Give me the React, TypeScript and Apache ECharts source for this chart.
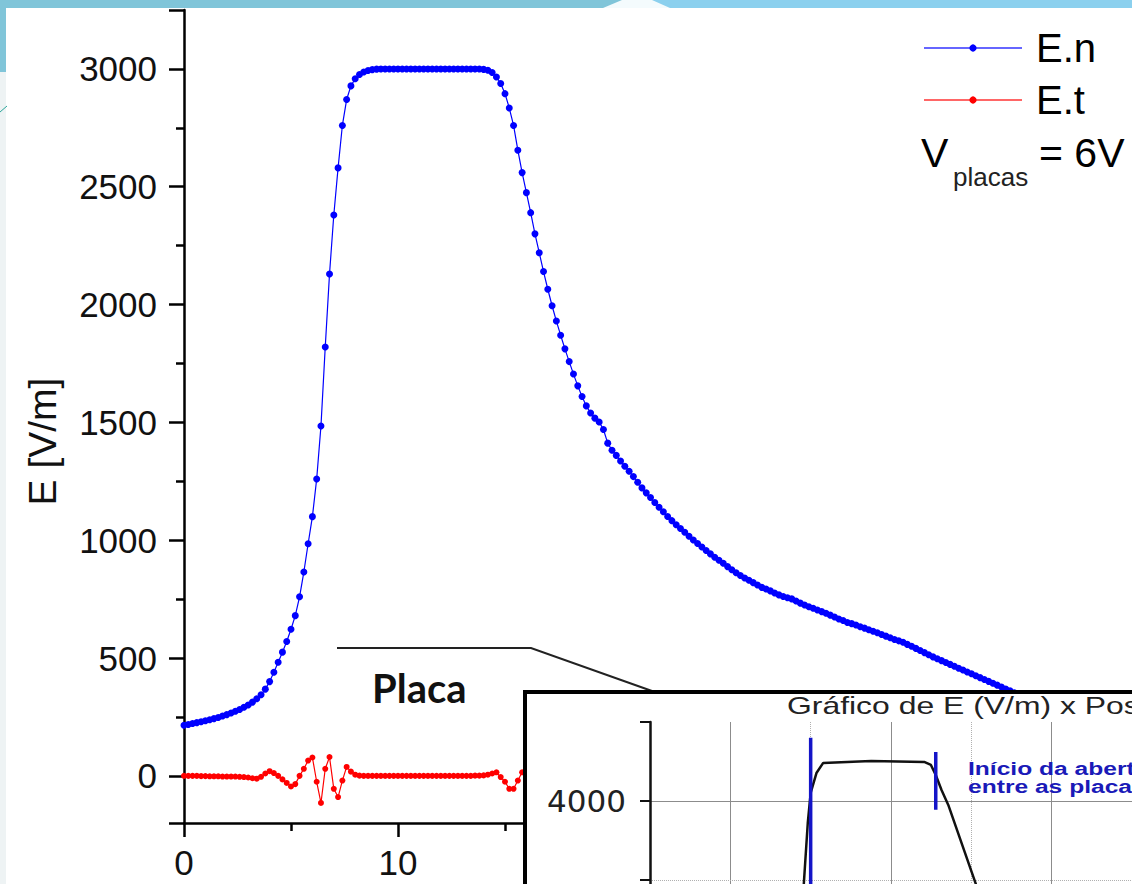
import React, { useEffect, useRef } from "react";
import * as echarts from "echarts";

// ---- main chart data (x sampled every STEP units, starting at 0) ----
const STEP = 0.2;

// E.n [V/m]
const eNormal = [
  215, 218, 222, 226, 230, 234, 238, 243, 248, 254,
  260, 267, 274, 282, 291, 301, 313, 327, 344, 368,
  400, 440, 482, 525, 570, 622, 680, 760, 865, 985,
  1100, 1260, 1485, 1820, 2130, 2380, 2580, 2760, 2870, 2928,
  2958, 2976, 2987, 2993, 2997, 2999, 3000, 3000, 3000, 3000,
  3000, 3000, 3000, 3000, 3000, 3000, 3000, 3000, 3000, 3000,
  3000, 3000, 3000, 3000, 3000, 3000, 3000, 3000, 3000, 3000,
  2998, 2994, 2985, 2966, 2938, 2895, 2834, 2760, 2655, 2560,
  2475, 2390, 2300, 2220, 2140, 2065, 1995, 1930, 1870, 1812,
  1758, 1705, 1655, 1610, 1570, 1540, 1518, 1502, 1470, 1412,
  1382, 1360, 1336, 1314, 1293, 1270, 1246, 1222, 1201, 1181,
  1160, 1140, 1121, 1101, 1083, 1066, 1050, 1034, 1017, 1001,
  986, 971, 956, 942, 928, 915, 902, 888, 875, 862,
  850, 840, 830, 820, 810, 800, 793, 785, 776, 768,
  761, 756, 751, 742, 733, 725, 718, 711, 704, 697,
  690, 682, 674, 666, 659, 651, 646, 640, 633, 627,
  620, 614, 607, 600, 593, 586, 579, 573, 567, 558,
  550, 541, 532, 523, 514, 505, 497, 489, 481, 473,
  465, 457, 449, 441, 433, 425, 417, 409, 401, 393,
  385, 377, 369, 361, 353, 345, 337, 329, 321, 313,
  305,
];

// E.t [V/m]
const eTangential = [
  0, 0, 0, 0, -1, -1, -2, -2, -2, -3,
  -3, -3, -3, -4, -5, -7, -10, -12, -4, 10,
  20, 12, 0, -15, -30, -45, -35, 0, 30, 65,
  78, -25, -115, 30, 80, -55, -90, -20, 38, 18,
  5, 1, 0, 0, 0, 0, 0, 0, 0, 0,
  0, 0, 0, 0, 0, 0, 0, 0, 0, 0,
  0, 0, 0, 0, 0, 0, 0, 0, 1, 1,
  2, 5, 10, 15, -5, -25, -55, -55, -20, 15,
  35,
];

// ---- inset ("Gráfico de E (V/m) x Posição") data ----
const insetPos = [1.868, 1.916, 1.964, 2.0, 2.072, 2.156, 2.754, 3.413, 3.497, 3.557, 3.629, 3.713, 4.048, 4.31];
const insetField = [3000, 3487, 3861, 4051, 4177, 4241, 4253, 4247, 4228, 4165, 4070, 3975, 3487, 3090];
const insetBoundaryA = [[2.0, 4400], [2.0, 2950]];
const insetBoundaryB = [[3.557, 4310], [3.557, 3945]];
const insetGridSolidX = [1, 3, 5];
const insetGridDottedX = [2, 4];
const insetGridSolidY = [4000];
const insetGridDottedY = [3500];

const FONT = "'Liberation Sans', Arial, Helvetica, sans-serif";

export default function App() {
  const ref = useRef<HTMLDivElement>(null);

  useEffect(() => {
    if (!ref.current) return;
    const chart = echarts.init(ref.current, undefined, { renderer: "svg" });

    const nData = eNormal.map((v, i) => [Math.round(i * STEP * 10) / 10, v]);
    const tData = eTangential.map((v, i) => [Math.round(i * STEP * 10) / 10, v]);
    const insetData = insetPos.map((x, i) => [x, insetField[i]]);

    const gridMarks = [
      ...insetGridSolidX.map((v) => ({ xAxis: v, lineStyle: { color: "#8c8c8c", width: 1, type: "solid" } })),
      ...insetGridDottedX.map((v) => ({ xAxis: v, lineStyle: { color: "#b0b0b0", width: 1, type: "dotted" } })),
      ...insetGridSolidY.map((v) => ({ yAxis: v, lineStyle: { color: "#8c8c8c", width: 1, type: "solid" } })),
      ...insetGridDottedY.map((v) => ({ yAxis: v, lineStyle: { color: "#b0b0b0", width: 1, type: "dotted" } })),
    ];

    const axisBlack = { color: "#000", width: 2.5 };

    chart.setOption({
      animation: false,
      backgroundColor: "#ffffff",
      grid: [
        { left: 184, top: 10, width: 941.6, height: 813 },
        { left: 650, top: 722, width: 501, height: 237 },
      ],
      xAxis: [
        {
          type: "value",
          gridIndex: 0,
          min: 0,
          max: 44,
          interval: 10,
          axisLine: { show: true, onZero: false, lineStyle: axisBlack },
          axisTick: { show: true, length: 14, lineStyle: axisBlack },
          minorTick: { show: true, splitNumber: 2, length: 8, lineStyle: axisBlack },
          splitLine: { show: false },
          axisLabel: { fontSize: 35, color: "#111", fontFamily: FONT, margin: 22, showMaxLabel: false },
        },
        { type: "value", gridIndex: 1, min: 0, max: 6, show: false },
      ],
      yAxis: [
        {
          type: "value",
          gridIndex: 0,
          min: -200,
          max: 3250,
          splitNumber: 7,
          name: "E [V/m]",
          nameLocation: "middle",
          nameRotate: 90,
          nameGap: 122,
          nameTextStyle: { fontSize: 39, color: "#111", fontFamily: FONT, padding: [0, 50, 0, 0] },
          axisLine: { show: true, onZero: false, lineStyle: axisBlack },
          axisTick: { show: true, length: 15, lineStyle: axisBlack },
          minorTick: { show: true, splitNumber: 2, length: 8, lineStyle: axisBlack },
          splitLine: { show: false },
          axisLabel: {
            fontSize: 35,
            color: "#111",
            fontFamily: FONT,
            margin: 27,
            showMinLabel: false,
            showMaxLabel: false,
            formatter: (v: number) => (v % 500 === 0 ? String(v) : ""),
          },
        },
        {
          type: "value",
          gridIndex: 1,
          min: 3000,
          max: 4500,
          interval: 500,
          z: 60,
          axisLine: { show: true, lineStyle: { color: "#111", width: 2.5 } },
          axisTick: { show: true, length: 10, lineStyle: { color: "#111", width: 2 } },
          splitLine: { show: false },
          axisLabel: {
            fontSize: 31,
            color: "#222",
            fontFamily: "'DejaVu Sans', sans-serif",
            margin: 24,
            formatter: (v: number) => (v % 1000 === 0 && v !== 3000 ? String(v) : ""),
          },
        },
      ],
      legend: {
        data: ["E.n", "E.t"],
        orient: "vertical",
        left: 923,
        top: 22,
        padding: 0,
        itemWidth: 98,
        itemHeight: 9,
        itemGap: 0,
        selectedMode: false,
        lineStyle: { width: 2, opacity: 0.6 },
        textStyle: { fontSize: 40, lineHeight: 52, color: "#000", fontFamily: FONT, padding: [0, 0, 0, 9] },
      },
      series: [
        {
          name: "E.t",
          type: "line",
          xAxisIndex: 0,
          yAxisIndex: 0,
          data: tData,
          symbol: "circle",
          symbolSize: 6,
          showSymbol: true,
          lineStyle: { color: "#ff0000", width: 1.2 },
          itemStyle: { color: "#ff0000" },
          z: 3,
        },
        {
          name: "E.n",
          type: "line",
          xAxisIndex: 0,
          yAxisIndex: 0,
          data: nData,
          symbol: "circle",
          symbolSize: 7,
          showSymbol: true,
          lineStyle: { color: "#0000ff", width: 1.2 },
          itemStyle: { color: "#0000ff" },
          z: 4,
        },
        {
          name: "insetGrid",
          type: "line",
          xAxisIndex: 1,
          yAxisIndex: 1,
          data: [[0, 3000]],
          symbol: "none",
          z: 55,
          silent: true,
          markLine: { silent: true, z: 56, symbol: "none", label: { show: false }, data: gridMarks },
        },
        {
          name: "insetCurve",
          type: "line",
          xAxisIndex: 1,
          yAxisIndex: 1,
          data: insetData,
          symbol: "none",
          lineStyle: { color: "#111", width: 2.5 },
          z: 60,
        },
        {
          name: "boundaryA",
          type: "line",
          xAxisIndex: 1,
          yAxisIndex: 1,
          data: insetBoundaryA,
          symbol: "none",
          lineStyle: { color: "#1414c8", width: 3.5 },
          z: 62,
        },
        {
          name: "boundaryB",
          type: "line",
          xAxisIndex: 1,
          yAxisIndex: 1,
          data: insetBoundaryB,
          symbol: "none",
          lineStyle: { color: "#1414c8", width: 3.5 },
          z: 62,
        },
      ],
      graphic: [
        // slide decoration
        { type: "rect", z: 1, shape: { x: 0, y: 0, width: 640, height: 8 }, style: { fill: "#80c5d9" } },
        { type: "rect", z: 1, shape: { x: 640, y: 0, width: 492, height: 8 }, style: { fill: "#8bd0ee" } },
        { type: "polygon", z: 2, shape: { points: [[603, 8], [622, 0], [652, 0], [670, 8]] }, style: { fill: "#f4fbfd" } },
        { type: "rect", z: 1, shape: { x: 0, y: 0, width: 6, height: 72 }, style: { fill: "#80c5d9" } },
        { type: "rect", z: 1, shape: { x: 0, y: 72, width: 6, height: 812 }, style: { fill: "#eef3f4" } },
        { type: "line", z: 2, shape: { x1: 0, y1: 112, x2: 7, y2: 106 }, style: { stroke: "#2aa59a", lineWidth: 1 } },
        // annotation
        {
          type: "polyline",
          z: 10,
          shape: { points: [[337, 648], [531, 648], [652, 691]] },
          style: { stroke: "#222", lineWidth: 2, fill: "none" },
        },
        {
          type: "text",
          z: 10,
          x: 372,
          y: 688,
          style: {
            text: "Placa",
            fontSize: 40,
            fontWeight: "bold",
            fontFamily: "Lato, 'Open Sans', sans-serif",
            fill: "#111",
            textAlign: "left",
            textVerticalAlign: "middle",
            align: "left",
            verticalAlign: "middle",
          },
        },
        // V_placas = 6V
        {
          type: "text",
          z: 10,
          x: 921,
          y: 153,
          style: { text: "V", fontSize: 41, fontFamily: FONT, fill: "#000", textVerticalAlign: "middle", verticalAlign: "middle" },
        },
        {
          type: "text",
          z: 10,
          x: 953,
          y: 177,
          style: { text: "placas", fontSize: 26, fontFamily: FONT, fill: "#222", textVerticalAlign: "middle", verticalAlign: "middle" },
        },
        {
          type: "text",
          z: 10,
          x: 1039,
          y: 153,
          style: { text: "= 6V", fontSize: 41, fontFamily: FONT, fill: "#000", textVerticalAlign: "middle", verticalAlign: "middle" },
        },
        // inset frame
        {
          type: "rect",
          z: 50,
          shape: { x: 525, y: 692, width: 700, height: 300 },
          style: { fill: "#ffffff", stroke: "#000", lineWidth: 4 },
        },
        {
          type: "text",
          z: 70,
          x: 787,
          y: 706,
          scaleX: 1.33,
          style: {
            text: "Gráfico de E (V/m) x Posição",
            fontSize: 24,
            fontFamily: FONT,
            fill: "#222",
            textVerticalAlign: "middle",
            verticalAlign: "middle",
          },
        },
        {
          type: "text",
          z: 70,
          x: 968,
          y: 769,
          scaleX: 1.33,
          style: {
            text: "Início da abertura",
            fontSize: 18.5,
            fontWeight: "bold",
            fontFamily: FONT,
            fill: "#1a1ab8",
            textVerticalAlign: "middle",
            verticalAlign: "middle",
          },
        },
        {
          type: "text",
          z: 70,
          x: 968,
          y: 787,
          scaleX: 1.33,
          style: {
            text: "entre as placas",
            fontSize: 18.5,
            fontWeight: "bold",
            fontFamily: FONT,
            fill: "#1a1ab8",
            textVerticalAlign: "middle",
            verticalAlign: "middle",
          },
        },
      ],
    });

    return () => chart.dispose();
  }, []);

  return <div ref={ref} style={{ position: "fixed", left: 0, top: 0, width: 1132, height: 1000 }} />;
}
